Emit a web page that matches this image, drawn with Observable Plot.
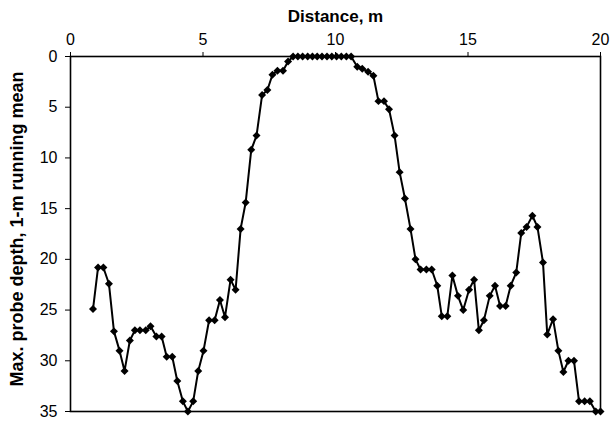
<!DOCTYPE html>
<html>
<head>
<meta charset="utf-8">
<script src="https://cdn.jsdelivr.net/npm/d3@7"></script>
<script src="https://cdn.jsdelivr.net/npm/@observablehq/plot@0.6"></script>
<style>
  html, body { margin: 0; padding: 0; background: #fff; }
</style>
</head>
<body>
<div id="chart"></div>
<script>
const distance = [
  0.85, 1.04, 1.24, 1.45, 1.64, 1.85, 2.04, 2.24, 2.43, 2.62,
  2.84, 3.02, 3.24, 3.44, 3.63, 3.84, 4.03, 4.24, 4.43, 4.63,
  4.82, 5.02, 5.23, 5.44, 5.64, 5.83, 6.04, 6.23, 6.42, 6.61,
  6.82, 7.02, 7.23, 7.43, 7.62, 7.81, 8.02, 8.21,
  8.40, 8.58, 8.76, 8.95, 9.13, 9.31, 9.49, 9.68, 9.86, 10.04, 10.22, 10.41, 10.59,
  10.82, 11.01, 11.23, 11.43, 11.62, 11.83, 12.02, 12.23, 12.42, 12.62,
  12.83, 13.02, 13.21, 13.43, 13.63, 13.84, 14.01, 14.22, 14.41, 14.62,
  14.82, 15.04, 15.23, 15.41, 15.60, 15.82, 16.02, 16.21, 16.42, 16.61,
  16.82, 17.01, 17.21, 17.43, 17.62, 17.83, 17.99, 18.21, 18.41, 18.60,
  18.79, 19.00, 19.19, 19.40, 19.60, 19.82, 20.00
];
const depth = [
  24.9, 20.8, 20.8, 22.4, 27.1, 29.0, 31.0, 28.0, 27.0, 27.0,
  27.0, 26.6, 27.6, 27.6, 29.6, 29.6, 32.0, 34.0, 35.0, 34.0,
  31.0, 29.0, 26.0, 26.0, 24.0, 25.7, 22.0, 23.0, 17.0, 14.4,
  9.2, 7.8, 3.8, 3.3, 1.8, 1.4, 1.4, 0.5,
  0, 0, 0, 0, 0, 0, 0, 0, 0, 0, 0, 0, 0,
  1.0, 1.2, 1.5, 1.9, 4.4, 4.4, 5.2, 7.8, 11.4, 14.0,
  17.0, 20.0, 21.0, 21.0, 21.0, 22.6, 25.6, 25.6, 21.6, 23.6,
  25.0, 23.0, 22.0, 27.0, 26.0, 23.6, 22.6, 24.6, 24.6, 22.6,
  21.3, 17.4, 16.8, 15.7, 16.8, 20.3, 27.4, 25.9, 29.0, 31.1,
  30.0, 30.0, 34.0, 34.0, 34.0, 35.0, 35.0
];
const xTicks = [0, 5, 10, 15, 20];
const yTicks = [0, 5, 10, 15, 20, 25, 30, 35];
const xTitle = "Distance, m";
const yTitle = "Max. probe depth, 1-m running mean";

const data = distance.map((d, i) => ({x: d, y: depth[i]}));

const chart = Plot.plot({
  width: 611,
  height: 423,
  marginLeft: 70,
  marginRight: 11,
  marginTop: 56,
  marginBottom: 12,
  style: {fontFamily: "'Liberation Sans', Arial, sans-serif", fontSize: "16px", color: "#000", background: "#fff"},
  x: {domain: [0, 20]},
  y: {domain: [0, 35], reverse: true},
  marks: [
    Plot.frame({stroke: "#000", strokeWidth: 1.6}),
    Plot.axisX({anchor: "top", ticks: xTicks, tickSize: 5, tickPadding: 7, label: null, fontSize: 16}),
    Plot.axisY({anchor: "left", ticks: yTicks, tickSize: 5, tickPadding: 8, label: null, fontSize: 16}),
    Plot.text([xTitle], {frameAnchor: "top", lineAnchor: "middle", textAnchor: "middle", dy: -40, fontWeight: "bold", fontSize: 17}),
    Plot.text([yTitle], {frameAnchor: "left", lineAnchor: "middle", textAnchor: "middle", dx: -53, dy: -5, rotate: -90, fontWeight: "bold", fontSize: 18}),
    Plot.line(data, {x: "x", y: "y", stroke: "#000", strokeWidth: 2}),
    Plot.dot(data, {x: "x", y: "y", symbol: "diamond2", r: 3.6, fill: "#000", stroke: "none"})
  ]
});
document.getElementById("chart").appendChild(chart);
</script>
</body>
</html>
